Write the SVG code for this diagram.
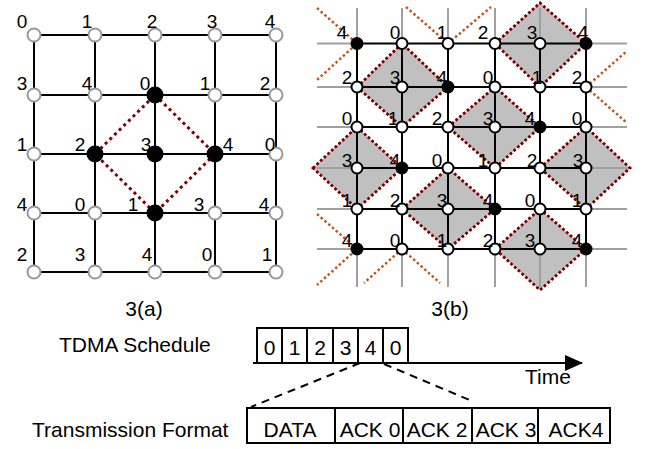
<svg xmlns="http://www.w3.org/2000/svg" width="649" height="449" viewBox="0 0 649 449">
<style>
text{font-family:"Liberation Sans",Arial,sans-serif;fill:#000}
.d{font-size:19px;text-anchor:middle}
.t{font-size:21px}
.tm{font-size:21px;text-anchor:middle}
.gl{stroke:#000;stroke-width:2;fill:none}
.ext{stroke:#a0a0a0;stroke-width:2;fill:none}
.lw{fill:#fff;stroke:#999;stroke-width:2}
.rw{fill:#fff;stroke:#000;stroke-width:2}
.bk{fill:#000}
.red{stroke:#800000;stroke-width:3;stroke-dasharray:3 3.5;fill:none}
.rd{stroke:#800000;stroke-width:2.5;stroke-dasharray:2.5 2.5;fill:#c0c0c0}
.rdl{stroke:#800000;stroke-width:2.5;stroke-dasharray:2.5 2.5;fill:none}
.or{stroke:#c0581c;stroke-width:2.5;stroke-dasharray:2.5 2.5;fill:none}
.box{fill:#fff;stroke:#000;stroke-width:2}
.dash{stroke:#000;stroke-width:2;stroke-dasharray:8 6;fill:none}
</style>
<defs>
<marker id="ah" markerWidth="18" markerHeight="16" refX="17" refY="8" orient="auto" markerUnits="userSpaceOnUse"><path d="M0,0 L18,8 L0,16 Z" fill="#000"/></marker>
</defs>

<g id="diamonds">
<path class="rd" d="M495,43.5 L540,3 L586,43.5 L540,87 Z"/>
<path class="rd" d="M357,87 L402,43.5 L448,87 L402,127 Z"/>
<path class="rd" d="M448,127 L495,87 L540,127 L495,168 Z"/>
<path class="rd" d="M313,168 L357,127 L402,168 L357,209 Z"/>
<path class="rd" d="M540,168 L586,127 L630,168 L586,209 Z"/>
<path class="rd" d="M402,209 L448,168 L495,209 L448,249 Z"/>
<path class="rd" d="M495,249 L540,209 L586,249 L540,290 Z"/>
</g>

<g id="connectors">
<path class="gl" d="M34,35H276M34,95H276M34,154H276M34,213H276M34,272H276M34,35V272M95,35V272M155,35V272M215,35V272M276,35V272"/>
<path class="red" d="M155,95 L215,154 L155,213 L95,154 Z"/>
<path class="ext" d="M317,43.5H357M586,43.5H627M317,87H357M586,87H627M317,127H357M586,127H627M317,168H357M586,168H627M317,209H357M586,209H627M317,249H357M586,249H627M357,8V43.5M402,8V43.5M448,8V43.5M495,8V43.5M540,8V43.5M586,8V43.5M357,249V287M402,249V287M448,249V287M495,249V287M540,249V287M586,249V287"/>
<path class="gl" d="M357,43.5H586M357,87H586M357,127H586M357,168H586M357,209H586M357,249H586M357,43.5V249M402,43.5V249M448,43.5V249M495,43.5V249M540,43.5V249M586,43.5V249"/>
<path class="rdl" d="M495,43.5 L540,3 L586,43.5 L540,87 Z M357,87 L402,43.5 L448,87 L402,127 Z M448,127 L495,87 L540,127 L495,168 Z M313,168 L357,127 L402,168 L357,209 Z M540,168 L586,127 L630,168 L586,209 Z M402,209 L448,168 L495,209 L448,249 Z M495,249 L540,209 L586,249 L540,290 Z"/>
<path class="or" d="M317,8 L357,43.5 L317,80 M406,7 L448,43.5 L491,7 M586,87 L627,51 M586,87 L627,123 M317,214 L357,249 L317,285 M402,249 L364,283 M402,249 L440,283"/>
<path class="gl" d="M253,363 H582" marker-end="url(#ah)"/>
<path class="dash" d="M360,363 L251,407 M384,364 L472,401"/>
</g>

<g id="a00"><circle class="lw" cx="34" cy="35" r="6.5"/><text class="d" x="22" y="28">0</text></g>
<g id="a01"><circle class="lw" cx="95" cy="35" r="6.5"/><text class="d" x="87" y="28">1</text></g>
<g id="a02"><circle class="lw" cx="155" cy="35" r="6.5"/><text class="d" x="152" y="28">2</text></g>
<g id="a03"><circle class="lw" cx="215" cy="35" r="6.5"/><text class="d" x="212" y="28">3</text></g>
<g id="a04"><circle class="lw" cx="276" cy="35" r="6.5"/><text class="d" x="270" y="28">4</text></g>
<g id="a10"><circle class="lw" cx="34" cy="95" r="6.5"/><text class="d" x="22" y="89.5">3</text></g>
<g id="a11"><circle class="lw" cx="95" cy="95" r="6.5"/><text class="d" x="87" y="89.5">4</text></g>
<g id="a12"><circle class="bk" cx="155" cy="95" r="8.5"/><text class="d" x="145" y="89.5">0</text></g>
<g id="a13"><circle class="lw" cx="215" cy="95" r="6.5"/><text class="d" x="205" y="89.5">1</text></g>
<g id="a14"><circle class="lw" cx="276" cy="95" r="6.5"/><text class="d" x="265" y="89.5">2</text></g>
<g id="a20"><circle class="lw" cx="34" cy="154" r="6.5"/><text class="d" x="22" y="150.5">1</text></g>
<g id="a21"><circle class="bk" cx="95" cy="154" r="8.5"/><text class="d" x="80" y="150.5">2</text></g>
<g id="a22"><circle class="bk" cx="155" cy="154" r="8.5"/><text class="d" x="146" y="150.5">3</text></g>
<g id="a23"><circle class="bk" cx="215" cy="154" r="8.5"/><text class="d" x="228" y="150.5">4</text></g>
<g id="a24"><circle class="lw" cx="276" cy="154" r="6.5"/><text class="d" x="270" y="150.5">0</text></g>
<g id="a30"><circle class="lw" cx="34" cy="213" r="6.5"/><text class="d" x="22" y="210.5">4</text></g>
<g id="a31"><circle class="lw" cx="95" cy="213" r="6.5"/><text class="d" x="80" y="210.5">0</text></g>
<g id="a32"><circle class="bk" cx="155" cy="213" r="8.5"/><text class="d" x="133" y="210.5">1</text></g>
<g id="a33"><circle class="lw" cx="215" cy="213" r="6.5"/><text class="d" x="199" y="210.5">3</text></g>
<g id="a34"><circle class="lw" cx="276" cy="213" r="6.5"/><text class="d" x="264" y="210.5">4</text></g>
<g id="a40"><circle class="lw" cx="34" cy="272" r="6.5"/><text class="d" x="22" y="260.5">2</text></g>
<g id="a41"><circle class="lw" cx="95" cy="272" r="6.5"/><text class="d" x="80" y="260.5">3</text></g>
<g id="a42"><circle class="lw" cx="155" cy="272" r="6.5"/><text class="d" x="147" y="260.5">4</text></g>
<g id="a43"><circle class="lw" cx="215" cy="272" r="6.5"/><text class="d" x="207" y="260.5">0</text></g>
<g id="a44"><circle class="lw" cx="276" cy="272" r="6.5"/><text class="d" x="267" y="260.5">1</text></g>

<g id="b00"><circle class="bk" cx="357" cy="43.5" r="6.5"/><text class="d" x="342" y="39">4</text></g>
<g id="b01"><circle class="rw" cx="402" cy="43.5" r="5.5"/><text class="d" x="395" y="39">0</text></g>
<g id="b02"><circle class="rw" cx="448" cy="43.5" r="5.5"/><text class="d" x="442" y="39">1</text></g>
<g id="b03"><circle class="rw" cx="495" cy="43.5" r="5.5"/><text class="d" x="483" y="39">2</text></g>
<g id="b04"><circle class="rw" cx="540" cy="43.5" r="5.5"/><text class="d" x="532" y="39">3</text></g>
<g id="b05"><circle class="bk" cx="586" cy="43.5" r="6.5"/><text class="d" x="583" y="39">4</text></g>
<g id="b10"><circle class="rw" cx="357" cy="87" r="5.5"/><text class="d" x="347" y="84">2</text></g>
<g id="b11"><circle class="rw" cx="402" cy="87" r="5.5"/><text class="d" x="395" y="84">3</text></g>
<g id="b12"><circle class="bk" cx="448" cy="87" r="6.5"/><text class="d" x="442" y="84">4</text></g>
<g id="b13"><circle class="rw" cx="495" cy="87" r="5.5"/><text class="d" x="488" y="84">0</text></g>
<g id="b14"><circle class="rw" cx="540" cy="87" r="5.5"/><text class="d" x="537" y="84">1</text></g>
<g id="b15"><circle class="rw" cx="586" cy="87" r="5.5"/><text class="d" x="577" y="84">2</text></g>
<g id="b20"><circle class="rw" cx="357" cy="127" r="5.5"/><text class="d" x="347" y="125">0</text></g>
<g id="b21"><circle class="rw" cx="402" cy="127" r="5.5"/><text class="d" x="393" y="125">1</text></g>
<g id="b22"><circle class="rw" cx="448" cy="127" r="5.5"/><text class="d" x="437" y="125">2</text></g>
<g id="b23"><circle class="rw" cx="495" cy="127" r="5.5"/><text class="d" x="488" y="125">3</text></g>
<g id="b24"><circle class="bk" cx="540" cy="127" r="6.5"/><text class="d" x="530" y="125">4</text></g>
<g id="b25"><circle class="rw" cx="586" cy="127" r="5.5"/><text class="d" x="577" y="125">0</text></g>
<g id="b30"><circle class="rw" cx="357" cy="168" r="5.5"/><text class="d" x="347" y="167">3</text></g>
<g id="b31"><circle class="bk" cx="402" cy="168" r="6.5"/><text class="d" x="395" y="167">4</text></g>
<g id="b32"><circle class="rw" cx="448" cy="168" r="5.5"/><text class="d" x="437" y="167">0</text></g>
<g id="b33"><circle class="rw" cx="495" cy="168" r="5.5"/><text class="d" x="483" y="167">1</text></g>
<g id="b34"><circle class="rw" cx="540" cy="168" r="5.5"/><text class="d" x="532" y="167">2</text></g>
<g id="b35"><circle class="rw" cx="586" cy="168" r="5.5"/><text class="d" x="578" y="167">3</text></g>
<g id="b40"><circle class="rw" cx="357" cy="209" r="5.5"/><text class="d" x="347" y="207">1</text></g>
<g id="b41"><circle class="rw" cx="402" cy="209" r="5.5"/><text class="d" x="395" y="207">2</text></g>
<g id="b42"><circle class="rw" cx="448" cy="209" r="5.5"/><text class="d" x="442" y="207">3</text></g>
<g id="b43"><circle class="bk" cx="495" cy="209" r="6.5"/><text class="d" x="488" y="207">4</text></g>
<g id="b44"><circle class="rw" cx="540" cy="209" r="5.5"/><text class="d" x="530" y="207">0</text></g>
<g id="b45"><circle class="rw" cx="586" cy="209" r="5.5"/><text class="d" x="577" y="207">1</text></g>
<g id="b50"><circle class="bk" cx="357" cy="249" r="6.5"/><text class="d" x="347" y="247">4</text></g>
<g id="b51"><circle class="rw" cx="402" cy="249" r="5.5"/><text class="d" x="395" y="247">0</text></g>
<g id="b52"><circle class="rw" cx="448" cy="249" r="5.5"/><text class="d" x="442" y="247">1</text></g>
<g id="b53"><circle class="rw" cx="495" cy="249" r="5.5"/><text class="d" x="488" y="247">2</text></g>
<g id="b54"><circle class="rw" cx="540" cy="249" r="5.5"/><text class="d" x="530" y="247">3</text></g>
<g id="b55"><circle class="bk" cx="586" cy="249" r="6.5"/><text class="d" x="577" y="247">4</text></g>

<g id="captions">
<text class="tm" x="144" y="316">3(a)</text>
<text class="tm" x="450" y="316">3(b)</text>
<text class="t" x="59" y="352">TDMA Schedule</text>
<text class="t" x="32" y="437">Transmission Format</text>
<text class="t" x="525" y="384">Time</text>
</g>

<g id="tdma">
<rect class="box" x="257" y="328" width="25" height="35"/><text class="tm" x="269.5" y="355">0</text>
<rect class="box" x="282" y="328" width="25" height="35"/><text class="tm" x="294.5" y="355">1</text>
<rect class="box" x="307" y="328" width="26" height="35"/><text class="tm" x="320" y="355">2</text>
<rect class="box" x="333" y="328" width="25" height="35"/><text class="tm" x="345.5" y="355">3</text>
<rect class="box" x="358" y="328" width="25" height="35"/><text class="tm" x="370.5" y="355">4</text>
<rect class="box" x="383" y="328" width="25" height="35"/><text class="tm" x="395.5" y="355">0</text>
</g>

<g id="format">
<rect class="box" x="247" y="408" width="88" height="35"/><text class="tm" x="290" y="437">DATA</text>
<rect class="box" x="335" y="408" width="68" height="35"/><text class="tm" x="370" y="437">ACK 0</text>
<rect class="box" x="403" y="408" width="69" height="35"/><text class="tm" x="437" y="437">ACK 2</text>
<rect class="box" x="472" y="408" width="66" height="35"/><text class="tm" x="506" y="437">ACK 3</text>
<rect class="box" x="538" y="408" width="72" height="35"/><text class="tm" x="576" y="437">ACK4</text>
</g>
</svg>
